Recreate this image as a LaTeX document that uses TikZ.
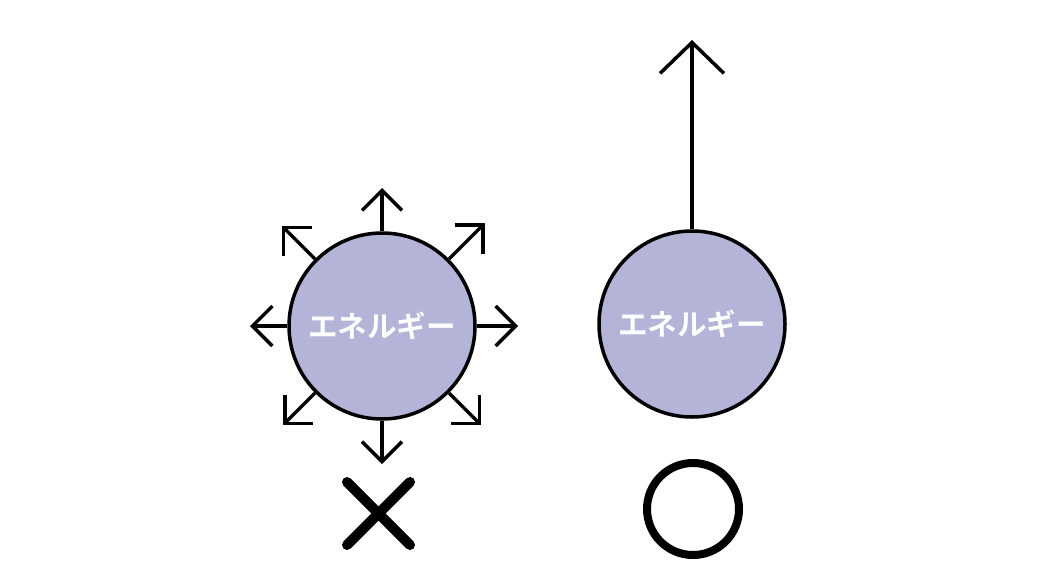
\documentclass[tikz,border=0pt]{standalone}
\usepackage{fontspec}
\newfontfamily\cjk{Noto Sans CJK JP}[BoldFont={Noto Sans CJK JP Bold}]
\usetikzlibrary{arrows.meta,calc}
\definecolor{ball}{RGB}{180,180,216}
\begin{document}
\begin{tikzpicture}[x=1pt,y=-1pt,
  energy/.style={circle,draw=black,line width=3.5pt,fill=ball,minimum size=186pt,inner sep=0pt,
    text=white,font=\cjk\bfseries\fontsize{29.5}{29.5}\selectfont},
  smallarrow/.style={line width=3.5pt,-{Straight Barb[length=20pt,width=40pt,line width=3.5pt]}},
  bigarrow/.style={line width=3.5pt,-{Straight Barb[length=31pt,width=64pt,line width=3.5pt]}},
  xstroke/.style={line width=10pt,line cap=round}]
\useasboundingbox (0,0) rectangle (1040,586);
\node[energy] (L) at (382,326) {エネルギー};
\node[energy] (R) at (692,324) {エネルギー};
\foreach \a/\r in {0/136,45/145,90/138,135/142,180/132,225/140,270/138,315/140}{
  \coordinate (t\a) at ($(L.center)+({cos(\a)*\r},{-sin(\a)*\r})$);
  \draw[smallarrow] (L.\a) -- (t\a);
}
\coordinate (top) at (692,40);
\draw[bigarrow] (R.north) -- (top);
\coordinate (x1) at (347,482);
\coordinate (x2) at (410,545);
\coordinate (x3) at (347,545);
\coordinate (x4) at (410,482);
\draw[xstroke] (x1) -- (x2);
\draw[xstroke] (x3) -- (x4);
\node[circle,draw=black,line width=8pt,minimum size=92pt,inner sep=0pt] (O) at (693,509) {};
\end{tikzpicture}
\end{document}
